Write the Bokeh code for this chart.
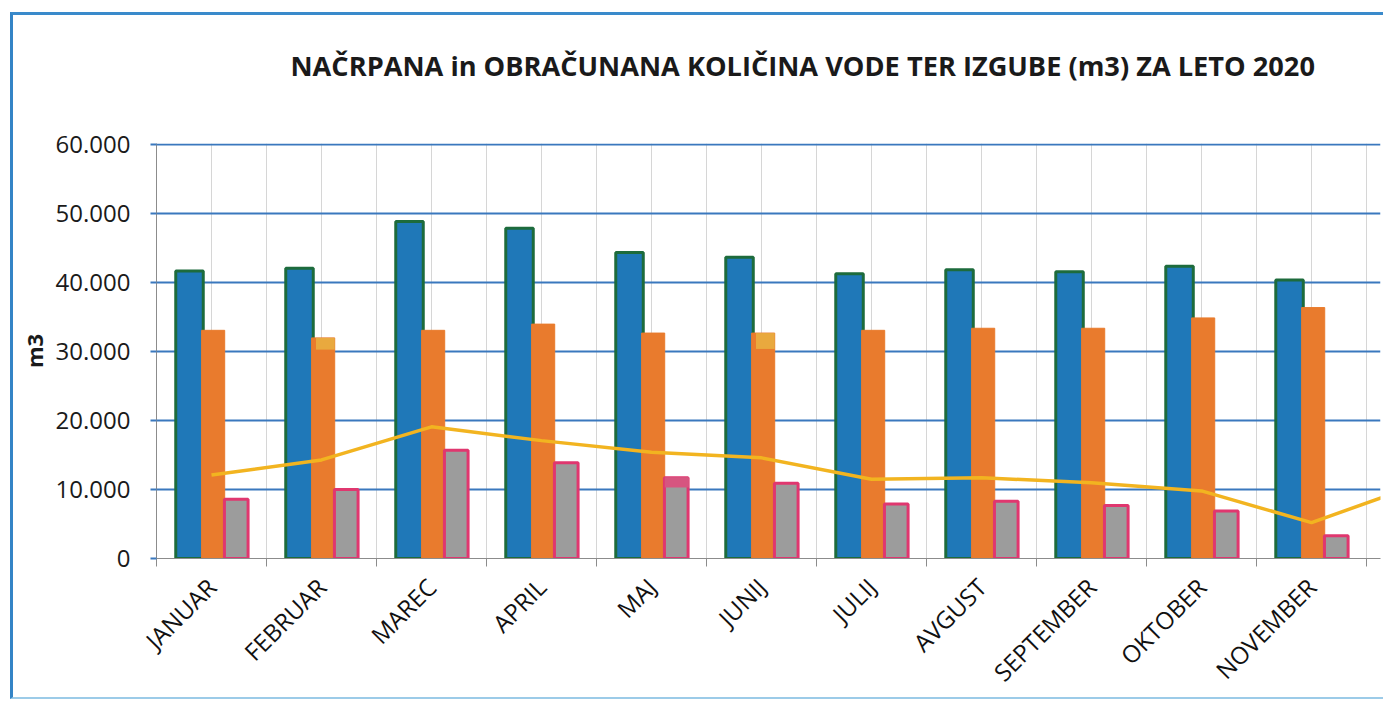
import numpy as np
from bokeh.plotting import figure
from bokeh.models import ColumnDataSource, Range1d, FixedTicker, Title
from bokeh.transform import dodge
from bokeh.embed import file_html
from bokeh.resources import INLINE
from math import pi

nan = float("nan")

meseci = ["JANUAR", "FEBRUAR", "MAREC", "APRIL", "MAJ", "JUNIJ", "JULIJ",
          "AVGUST", "SEPTEMBER", "OKTOBER", "NOVEMBER", "DECEMBER"]
nacrpana = [41700, 42100, 48900, 47900, 44400, 43700, 41300, 41900, 41600, 42400, 40400, nan]
obracunana = [33100, 32000, 33100, 34000, 32700, 32700, 33100, 33400, 33400, 34900, 36400, nan]
izgube = [8600, 10000, 15700, 13900, 11700, 10900, 7900, 8300, 7700, 6900, 3300, nan]
crta = [12100, 14300, 19100, 17100, 15400, 14600, 11500, 11700, 11000, 9800, 5200, 10900]

# small marks visible on top of some bars in the scan
oznake_mesec = ["FEBRUAR", "JUNIJ"]
oznake_zgoraj = [32000, 32700]
oznake_spodaj = [30300, 30400]
roza_mesec = ["MAJ"]
roza_zgoraj = [11800]
roza_spodaj = [10300]

y_ticks = [0, 10000, 20000, 30000, 40000, 50000, 60000]
y_tick_labels = ["0", "10.000", "20.000", "30.000", "40.000", "50.000", "60.000"]

title_text = "NAČRPANA in OBRAČUNANA KOLIČINA VODE TER IZGUBE (m3)  ZA LETO 2020"
FONT = "Open Sans"

idx = list(range(len(meseci)))
src = ColumnDataSource(dict(x=idx, nacrpana=nacrpana, obracunana=obracunana,
                            izgube=izgube, crta=crta))
oz_src = ColumnDataSource(dict(x=[meseci.index(m) for m in oznake_mesec],
                               top=oznake_zgoraj, bottom=oznake_spodaj))
ro_src = ColumnDataSource(dict(x=[meseci.index(m) for m in roza_mesec],
                               top=roza_zgoraj, bottom=roza_spodaj))

p = figure(width=1373, height=687, output_backend="svg", toolbar_location=None,
           title=None,
           x_range=Range1d(-0.5, 10.627), y_range=Range1d(0, 60200),
           min_border_left=143, min_border_right=6, min_border_top=128, min_border_bottom=144,
           styles={"margin-left": "10px", "margin-top": "12px",
                   "border-left": "3px solid #3484C6", "border-top": "3px solid #3A8ACB",
                   "border-bottom": "2px solid #9CCBE8"})
p.outline_line_color = None
p.background_fill_color = "white"
p.border_fill_color = "white"

# spacer between frame and title, then the title itself
p.add_layout(Title(text=" ", text_font=FONT, text_font_size="27.5px", standoff=21), "above")
p.add_layout(Title(text=title_text, align="left", offset=134, standoff=0,
                   text_font=FONT, text_font_style="bold", text_font_size="27.2px",
                   text_color="#1A1A1A"), "above")

# grids
p.xgrid.ticker = FixedTicker(ticks=[i * 0.5 - 0.5 for i in range(26)])
p.xgrid.grid_line_color = "#D6D6D6"
p.xgrid.grid_line_width = 1
p.ygrid.ticker = FixedTicker(ticks=y_ticks)
p.ygrid.grid_line_color = "#3A78BE"
p.ygrid.grid_line_width = 2

# bars
p.vbar(x=dodge("x", -0.20), top="nacrpana", width=0.25, source=src,
       fill_color="#1F78B8", line_color="#1D6B3C", line_width=3)
p.vbar(x=dodge("x", 0.015), top="obracunana", width=0.21, source=src,
       fill_color="#E97B2D", line_color="#E97B2D", line_width=1)
p.vbar(x=dodge("x", 0.225), top="izgube", width=0.215, source=src,
       fill_color="#9C9C9C", line_color="#E0376F", line_width=3)
p.quad(left=dodge("x", -0.05), right=dodge("x", 0.12), top="top", bottom="bottom",
       source=oz_src, fill_color="#E9A93E", line_color=None)
p.quad(left=dodge("x", 0.12), right=dodge("x", 0.34), top="top", bottom="bottom",
       source=ro_src, fill_color="#D65580", line_color=None)

p.line(x="x", y="crta", source=src, line_color="#F2B420", line_width=3.5)

# x axis
xa = p.xaxis[0]
xa.ticker = FixedTicker(ticks=idx, minor_ticks=[i - 0.5 for i in range(13)])
xa.major_label_overrides = {i: m for i, m in zip(idx, meseci)}
xa.major_label_orientation = pi / 4
xa.major_tick_out = 0
xa.major_tick_in = 0
xa.minor_tick_out = 8
xa.minor_tick_in = 0
xa.minor_tick_line_color = "#8C8C8C"
xa.axis_line_color = "#8C8C8C"
xa.major_label_text_font = FONT
xa.major_label_text_font_size = "24px"
xa.major_label_text_color = "#111111"
xa.major_label_standoff = 16

# y axis
ya = p.yaxis[0]
ya.ticker = FixedTicker(ticks=y_ticks)
ya.major_label_overrides = {t: s for t, s in zip(y_ticks, y_tick_labels)}
ya.minor_tick_line_color = None
ya.major_tick_out = 6
ya.major_tick_in = 0
ya.major_tick_line_color = "#3A78BE"
ya.major_tick_line_width = 2
ya.axis_line_color = "#8C8C8C"
ya.major_label_text_font = FONT
ya.major_label_text_font_size = "24px"
ya.major_label_text_color = "#1A1A1A"
ya.major_label_standoff = 20
ya.axis_label = "m3"
ya.axis_label_text_font = FONT
ya.axis_label_text_font_style = "bold"
ya.axis_label_text_font_size = "22px"
ya.axis_label_text_color = "#1A1A1A"
ya.axis_label_standoff = 4

open("out.html", "w").write(file_html(p, INLINE))
